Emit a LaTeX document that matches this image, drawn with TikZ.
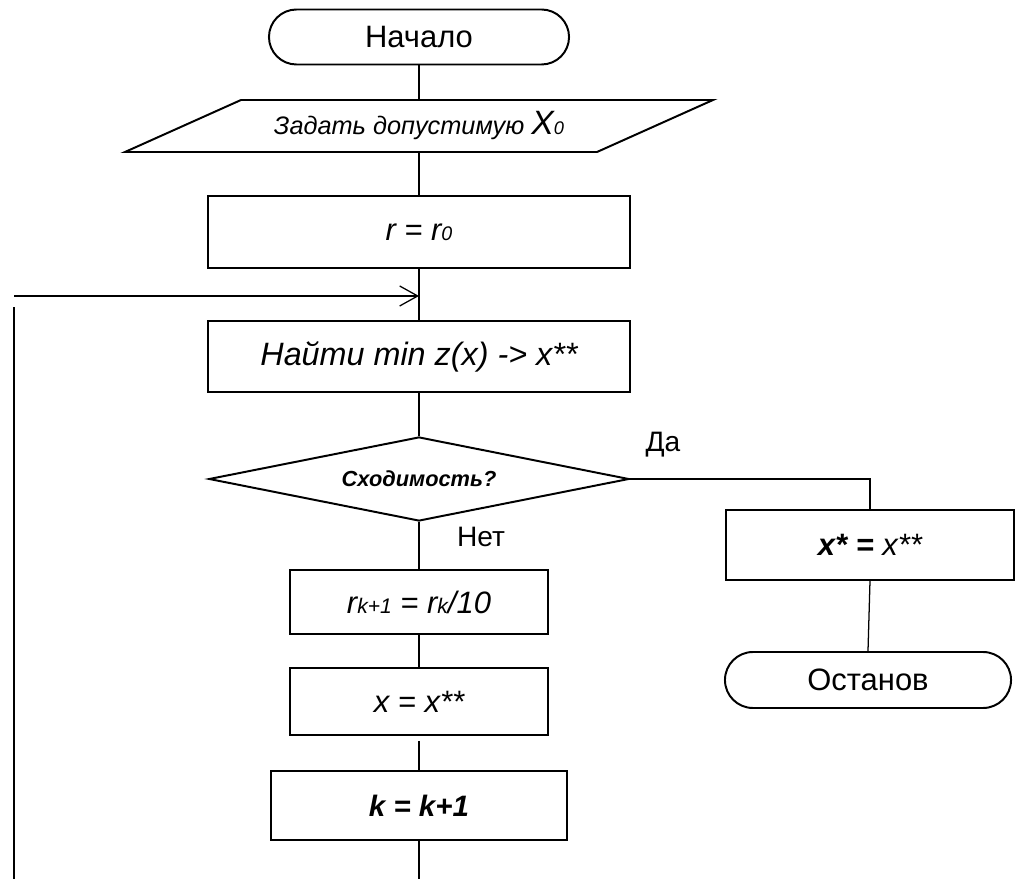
\documentclass[tikz,border=0pt]{standalone}
\usepackage{fontspec}
\setmainfont{Liberation Sans}
\usetikzlibrary{shapes.geometric,shapes.misc,arrows.meta}
\newcommand{\fsz}[1]{\fontsize{#1}{#1}\selectfont}
\begin{document}
\begin{tikzpicture}[x=0.025cm,y=-0.025cm,
      box/.style={draw,line width=1.4pt,inner sep=0pt,font=\fsz{22}\itshape},
      term/.style={draw,rounded rectangle,line width=1.4pt,inner sep=0pt,font=\fsz{22}},
      link/.style={line width=0.9pt},
      lbl/.style={inner sep=0pt,font=\fsz{20}}]
   \useasboundingbox (0,0) rectangle (1015,879);
   \node[term,minimum width=7.5cm,minimum height=1.375cm] (start) at (419,37) {Начало};
   \draw[line width=1.4pt] (241,100) -- (713,100) -- (597,152) -- (125,152) -- cycle;
   \node[inner sep=0pt,minimum height=1.3cm,font=\fsz{18}\itshape] (inp) at (419,126)
      {Задать допустимую {\fsz{24}X}{\fsz{13}0}};
   \node[box,minimum width=10.525cm,minimum height=1.8cm] (rr) at (419,232)
      {r = r{\fsz{14}0}};
   \node[box,minimum width=10.525cm,minimum height=1.775cm,font=\fsz{23}\itshape] (find) at (419,356.5)
      {Найти min z(x) -> x**};
   \node[draw,diamond,shape aspect=5,line width=1.4pt,inner sep=0pt,
      minimum width=10.5cm,minimum height=2.1cm,font=\fsz{15.5}\bfseries\itshape] (conv) at (419,479)
      {Сходимость?};
   \node[box,minimum width=6.425cm,minimum height=1.6cm] (rk) at (419,602)
      {r{\fsz{15}k+1} = r{\fsz{15}k}/10};
   \node[box,minimum width=6.425cm,minimum height=1.675cm] (xx) at (419,701.5)
      {x = x**};
   \node[box,minimum width=7.375cm,minimum height=1.725cm,font=\fsz{21}\bfseries\itshape] (kk) at (419,805.5)
      {k = k+1};
   \node[box,minimum width=7.2cm,minimum height=1.75cm] (yes) at (870,545)
      {\textbf{x* =} x**};
   \node[term,minimum width=7.15cm,minimum height=1.4cm] (stop) at (868,680) {Останов};
   \node[lbl] (da) at (663,445) {Да};
   \node[lbl] (net) at (481,537) {Нет};
   \coordinate (bot) at (419,879);
   \coordinate (loopT) at (14,307);
   \coordinate (loopB) at (14,879);
   \coordinate (loopL) at (14,296);
   % main column
   \draw[link] (start.south) -- (inp.north);
   \draw[link] (inp.south) -- (rr.north);
   \draw[link] (rr.south) -- (find.north);
   \draw[link] (find.south) -- (conv.north);
   \draw[link] (conv.south) -- (rk.north);
   \draw[link] (rk.south) -- (xx.north);
   \draw[link] ([yshift=-0.12cm]xx.south) -- (kk.north);
   \draw[link] (kk.south) -- (bot);
   % yes branch
   \draw[link] (conv.east) -| (yes.north);
   \draw[link] (yes.south) -- (stop.north);
   % loop back
   \draw[link] (loopB) -- (loopT);
   \draw[link,-{Straight Barb[length=4.5mm,width=5mm,line width=0.9pt]}] (loopL) -- (loopL -| find.north);
\end{tikzpicture}
\end{document}
